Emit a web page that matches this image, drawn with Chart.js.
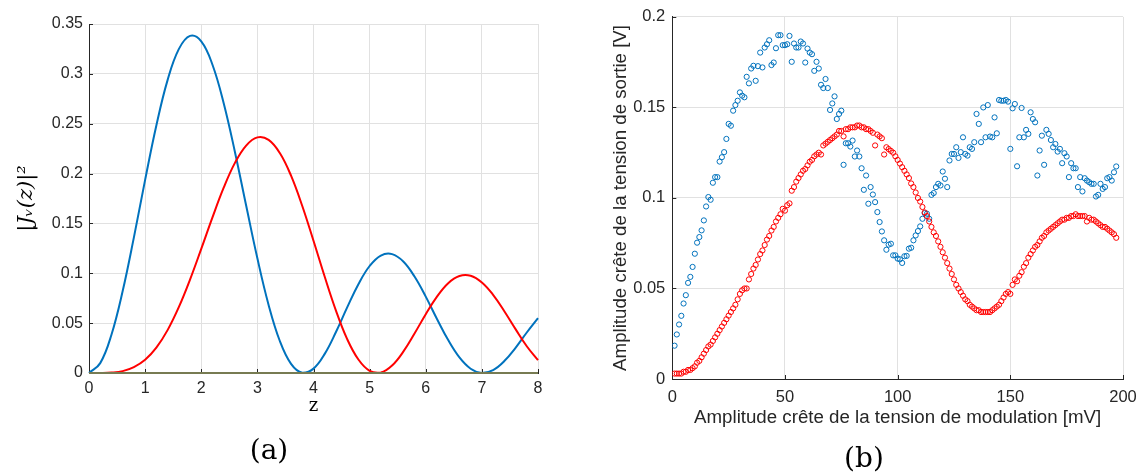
<!DOCTYPE html>
<html><head><meta charset="utf-8">
<script src="https://cdn.jsdelivr.net/npm/chart.js@4.4.1/dist/chart.umd.min.js"></script>
<style>
html,body{margin:0;padding:0;background:#fff;overflow:hidden;width:1137px;height:474px;}
#ca{position:absolute;left:0;top:0;}
#cb{position:absolute;left:605px;top:0;}
</style></head><body>
<canvas id="ca" width="594" height="474"></canvas>
<canvas id="cb" width="566" height="482"></canvas>
<script>
// ---------- Panel (a) data ----------
const zValues = [0,0.2,0.4,0.6,0.8,1.0,1.2,1.4,1.6,1.8,2.0,2.2,2.4,2.6,2.8,3.0,3.2,3.4,3.6,3.8,4.0,4.2,4.4,4.6,4.8,5.0,5.2,5.4,5.6,5.8,6.0,6.2,6.4,6.6,6.8,7.0,7.2,7.4,7.6,7.8,8.0];
const j1Squared = [0,0.0099,0.0384,0.0822,0.1360,0.1937,0.2483,0.2937,0.3248,0.3381,0.3326,0.3091,0.2706,0.2217,0.1679,0.1150,0.0683,0.0321,0.0091,0.0002,0.0044,0.0192,0.0411,0.0658,0.0891,0.1073,0.1178,0.1192,0.1118,0.0967,0.0766,0.0542,0.0330,0.0156,0.0043,0.0000,0.0029,0.0120,0.0253,0.0406,0.0550];
const j2Squared = [0,0.0000,0.0004,0.0019,0.0059,0.0132,0.0254,0.0430,0.0660,0.0937,0.1245,0.1561,0.1858,0.2107,0.2281,0.2363,0.2338,0.2206,0.1979,0.1675,0.1326,0.0965,0.0626,0.0340,0.0135,0.0022,0.0005,0.0075,0.0214,0.0396,0.0590,0.0766,0.0901,0.0973,0.0975,0.0908,0.0784,0.0620,0.0440,0.0268,0.0128];
const baselineZ = [0, 8];
const baselineY = [0, 0];
const aXTicks = [0,1,2,3,4,5,6,7,8];
const aXTickLabels = ['0','1','2','3','4','5','6','7','8'];
const aYTicks = [0,0.05,0.1,0.15,0.2,0.25,0.3,0.35];
const aYTickLabels = ['0','0.05','0.1','0.15','0.2','0.25','0.3','0.35'];

// ---------- Panel (b) data (x = 1 ... 197 mV, step 1 mV) ----------
const bFirstMv = 1;
const bBlue = [
0.0184,0.0246,0.0301,0.0349,0.0417,0.0463,0.0531,0.0564,0.0619,0.0692,
0.0753,0.0784,0.0821,0.0876,0.0953,0.1005,0.0990,0.1084,0.1115,0.1115,
0.1201,0.1225,0.1253,0.1326,0.1409,0.1399,0.1482,0.1513,0.1537,0.1583,
0.1565,0.1556,0.1669,0.1633,0.1715,0.1730,0.1647,0.1728,0.1803,0.1721,
0.1831,0.1849,0.1871,0.1734,0.1748,0.1827,0.1899,0.1899,0.1844,0.1844,
0.1849,0.1895,0.1752,0.1853,0.1831,0.1831,0.1864,0.1853,0.1748,0.1825,
0.1803,0.1794,0.1702,0.1752,0.1715,0.1625,0.1607,0.1657,0.1607,0.1486,
0.1522,0.1561,0.1436,0.1464,0.1482,0.1183,0.1302,0.1302,0.1284,0.1317,
0.1229,0.1262,0.1229,0.1164,0.1045,0.1124,0.0968,0.1060,0.1019,0.0977,
0.0922,0.0867,0.0815,0.0766,0.0714,0.0742,0.0747,0.0683,0.0683,0.0665,
0.0661,0.0641,0.0678,0.0680,0.0720,0.0725,0.0766,0.0793,0.0817,0.0843,
0.0885,0.0916,0.0913,0.0885,0.1017,0.1027,0.1060,0.1078,0.1069,0.1146,
0.1106,0.1060,0.1207,0.1243,0.1243,0.1280,0.1221,0.1253,0.1335,0.1243,
0.1234,0.1280,0.1271,0.1308,0.1464,0.1409,0.1308,0.1500,0.1335,0.1513,
0.1339,0.1335,0.1445,0.1357,0.1541,0.1537,0.1537,0.1541,0.1532,0.1271,
0.1495,0.1519,0.1175,0.1335,0.1497,0.1335,0.1376,0.1354,0.1473,0.1436,
0.1418,0.1124,0.1262,0.1344,0.1183,0.1376,0.1354,0.1320,0.1280,0.1298,
0.1256,0.1271,0.1192,0.1247,0.1229,0.1115,0.1192,0.1164,0.1164,0.1060,
0.1115,0.1036,0.1109,0.1096,0.1087,0.1078,0.1078,0.1008,0.1017,0.1078,
0.1050,0.1060,0.1109,0.1115,0.1096,0.1142,0.1174];
const bRed = [
0.003,0.003,0.003,0.003,0.004,0.004,0.005,0.005,0.006,0.007,
0.009,0.010,0.012,0.014,0.016,0.018,0.019,0.021,0.023,0.025,
0.027,0.029,0.031,0.033,0.035,0.037,0.039,0.041,0.044,0.047,
0.049,0.050,0.050,0.055,0.058,0.061,0.063,0.066,0.069,0.071,
0.074,0.077,0.079,0.082,0.084,0.087,0.089,0.091,0.094,0.093,
0.096,0.097,0.104,0.106,0.109,0.111,0.113,0.115,0.116,0.118,
0.120,0.121,0.123,0.124,0.125,0.124,0.129,0.130,0.131,0.132,
0.133,0.134,0.135,0.137,0.137,0.134,0.138,0.138,0.139,0.139,
0.139,0.140,0.140,0.139,0.139,0.138,0.138,0.137,0.136,0.129,
0.135,0.134,0.133,0.124,0.128,0.127,0.126,0.125,0.123,0.121,
0.119,0.117,0.115,0.113,0.111,0.108,0.106,0.103,0.100,0.098,
0.095,0.092,0.090,0.087,0.084,0.081,0.079,0.076,0.073,0.070,
0.067,0.064,0.061,0.058,0.055,0.052,0.050,0.048,0.046,0.044,
0.043,0.041,0.040,0.039,0.038,0.038,0.037,0.037,0.037,0.037,
0.037,0.038,0.039,0.040,0.041,0.043,0.045,0.047,0.048,0.047,
0.052,0.055,0.054,0.057,0.059,0.062,0.064,0.067,0.069,0.071,
0.073,0.074,0.076,0.078,0.079,0.081,0.082,0.083,0.084,0.085,
0.086,0.087,0.088,0.088,0.089,0.089,0.090,0.090,0.091,0.090,
0.090,0.090,0.090,0.087,0.089,0.088,0.088,0.087,0.086,0.085,
0.084,0.084,0.083,0.082,0.081,0.080,0.078];
const bXTicks = [0,50,100,150,200];
const bXTickLabels = ['0','50','100','150','200'];
const bYTicks = [0,0.05,0.1,0.15,0.2];
const bYTickLabels = ['0','0.05','0.1','0.15','0.2'];

// ---------- styles ----------
const C_BLUE = '#0072BD', C_RED = '#FF0000', C_OLIVE = '#777b52';
const C_AXIS = '#262626', C_GRID = '#e1e1e1';
const SANS = 'Liberation Sans, Arial, sans-serif';
const SERIF = 'DejaVu Serif, serif';

// inward tick marks (MATLAB style), drawn from the library's scales
const innerTicks = {
  id: 'innerTicks',
  beforeDatasetsDraw(chart) {
    const {ctx, chartArea: a, scales} = chart;
    ctx.save();
    ctx.strokeStyle = C_AXIS; ctx.lineWidth = 1;
    ctx.beginPath();
    scales.x.ticks.forEach(t => {
      const px = Math.round(scales.x.getPixelForValue(t.value)) + 0.5;
      ctx.moveTo(px, a.bottom); ctx.lineTo(px, a.bottom - 4);
    });
    scales.y.ticks.forEach(t => {
      const py = Math.round(scales.y.getPixelForValue(t.value)) + 0.5;
      ctx.moveTo(a.left, py); ctx.lineTo(a.left + 4, py);
    });
    ctx.stroke();
    ctx.restore();
  }
};

function xy(xs, ys) { return ys.map((v, i) => ({x: xs[i], y: v})); }

// ---------- Chart (a) ----------
new Chart(document.getElementById('ca'), {
  type: 'line',
  data: { datasets: [
    {label: 'zero', data: xy(baselineZ, baselineY), borderColor: C_OLIVE, borderWidth: 2, pointRadius: 0, clip: false, order: 0},
    {label: '|J2(z)|^2', data: xy(zValues, j2Squared), borderColor: C_RED, borderWidth: 2, pointRadius: 0, tension: 0.4, clip: false, order: 1},
    {label: '|J1(z)|^2', data: xy(zValues, j1Squared), borderColor: C_BLUE, borderWidth: 2, pointRadius: 0, tension: 0.4, clip: false, order: 2}
  ]},
  options: {
    responsive: false, animation: false, devicePixelRatio: 1,
    layout: {padding: {left: 0, top: 24, right: 56, bottom: 5}},
    plugins: {
      legend: {display: false}, tooltip: {enabled: false},
      title: {display: true, text: '(a)', position: 'bottom', color: '#000',
        font: {family: SERIF, size: 28, weight: 'normal', lineHeight: 1.2}, padding: {top: 0, bottom: 0}}
    },
    scales: {
      x: {type: 'linear', min: 0, max: 8,
        afterFit: s => { s.height = 62.4; },
        afterBuildTicks: s => { s.ticks = aXTicks.map(v => ({value: v})); },
        ticks: {autoSkip: false, maxRotation: 0, padding: 6, color: C_AXIS, font: {family: SANS, size: 16},
          callback: (v, i) => aXTickLabels[i]},
        grid: {color: C_GRID, lineWidth: 1, drawTicks: false},
        border: {color: C_AXIS, width: 1},
        title: {display: true, text: 'z', color: '#000', font: {family: SERIF, size: 18, lineHeight: 1.2}, padding: {top: 0, bottom: 18}}
      },
      y: {type: 'linear', min: 0, max: 0.35,
        afterFit: s => { s.width = 89; },
        afterBuildTicks: s => { s.ticks = aYTicks.map(v => ({value: v})); },
        ticks: {autoSkip: false, padding: 6, color: C_AXIS, font: {family: SANS, size: 16},
          callback: (v, i) => aYTickLabels[i]},
        grid: {color: C_GRID, lineWidth: 1, drawTicks: false},
        border: {color: C_AXIS, width: 1},
        title: {display: true, text: '|J\u1D65(z)|\u00B2', color: '#000', font: {family: SERIF, size: 21, style: 'italic', lineHeight: 1.2}, padding: {top: 14, bottom: 0}}
      }
    }
  },
  plugins: [innerTicks]
});

// ---------- Chart (b) ----------
new Chart(document.getElementById('cb'), {
  type: 'scatter',
  data: { datasets: [
    {label: 'sortie (bleu)', data: bBlue.map((v, i) => ({x: bFirstMv + i, y: v})), borderColor: C_BLUE, backgroundColor: 'rgba(0,0,0,0)',
      pointRadius: 2.6, pointBorderWidth: 1, pointStyle: 'circle', order: 1},
    {label: 'sortie (rouge)', data: bRed.map((v, i) => ({x: bFirstMv + i, y: v})), borderColor: C_RED, backgroundColor: 'rgba(0,0,0,0)',
      pointRadius: 2.6, pointBorderWidth: 1, pointStyle: 'circle', order: 0}
  ]},
  options: {
    responsive: false, animation: false, devicePixelRatio: 1,
    layout: {padding: {left: 0, top: 16.3, right: 48, bottom: 5}},
    plugins: {
      legend: {display: false}, tooltip: {enabled: false},
      title: {display: true, text: '(b)', position: 'bottom', color: '#000',
        font: {family: SERIF, size: 28, weight: 'normal', lineHeight: 1.2}, padding: {top: 0, bottom: 0}}
    },
    scales: {
      x: {type: 'linear', min: 0, max: 200,
        afterFit: s => { s.height = 64.4; },
        afterBuildTicks: s => { s.ticks = bXTicks.map(v => ({value: v})); },
        ticks: {autoSkip: false, maxRotation: 0, padding: 9, color: C_AXIS, font: {family: SANS, size: 16.5},
          callback: (v, i) => bXTickLabels[i]},
        grid: {color: C_GRID, lineWidth: 1, drawTicks: false},
        border: {color: C_AXIS, width: 1},
        title: {display: true, text: 'Amplitude crête de la tension de modulation [mV]', color: C_AXIS,
          font: {family: SANS, size: 18.7, lineHeight: 1.2}, padding: {top: 0, bottom: 14.2}}
      },
      y: {type: 'linear', min: 0, max: 0.2,
        afterFit: s => { s.width = 67.3; },
        afterBuildTicks: s => { s.ticks = bYTicks.map(v => ({value: v})); },
        ticks: {autoSkip: false, padding: 7, color: C_AXIS, font: {family: SANS, size: 16.5},
          callback: (v, i) => bYTickLabels[i]},
        grid: {color: C_GRID, lineWidth: 1, drawTicks: false},
        border: {color: C_AXIS, width: 1},
        title: {display: true, text: 'Amplitude crête de la tension de sortie [V]', color: C_AXIS,
          font: {family: SANS, size: 18.7, lineHeight: 1.2}, padding: {top: 4.4, bottom: 0}}
      }
    }
  },
  plugins: [innerTicks]
});
</script>
</body></html>
